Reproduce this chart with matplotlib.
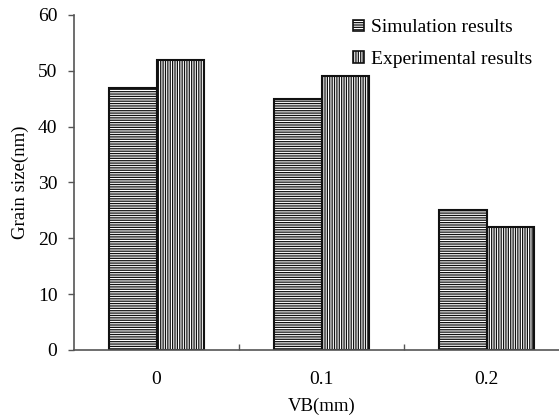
import matplotlib
matplotlib.use("Agg")
import matplotlib.pyplot as plt
import numpy as np

categories = ["0", "0.1", "0.2"]
simulation = [47, 45, 25]
experimental = [52, 49, 22]
series_names = ["Simulation results", "Experimental results"]
y_ticks = [0, 10, 20, 30, 40, 50, 60]

plt.rcParams["font.family"] = ["Liberation Serif", "DejaVu Serif"]
plt.rcParams["hatch.color"] = "#6e6e6e"
plt.rcParams["hatch.linewidth"] = 0.9

fig = plt.figure(figsize=(5.59, 4.2), dpi=100)
ax = fig.add_axes([0.1324, 0.1667, 0.8855, 0.7976])

x = np.arange(len(categories))
w = 0.285
ax.bar(x - w / 2, simulation, w, facecolor="white", edgecolor="#111111",
       linewidth=1.5, hatch="-------", label=series_names[0])
ax.bar(x + w / 2, experimental, w, facecolor="white", edgecolor="#111111",
       linewidth=1.5, hatch="|||||||", label=series_names[1])

ax.set_xlim(-0.5, 2.5)
ax.set_ylim(0, 60)
ax.set_yticks(y_ticks)
ax.set_xticks(x)
ax.set_xticklabels(categories)
ax.set_xticks([0.5, 1.5], minor=True)

for s in ["top", "right"]:
    ax.spines[s].set_visible(False)
for s in ["left", "bottom"]:
    ax.spines[s].set_color("#555555")
    ax.spines[s].set_linewidth(1.2)

ax.tick_params(axis="y", direction="out", length=4, width=1, color="#555555",
               labelsize=14, pad=8)
ax.tick_params(axis="x", which="major", length=0, labelsize=14, pad=15)
ax.tick_params(axis="x", which="minor", direction="in", length=4, width=1,
               color="#555555")

ax.set_xlabel("VB(mm)", fontsize=13.5, labelpad=7)
ax.set_ylabel("Grain size(nm)", fontsize=13.5, labelpad=6)

leg = ax.legend(loc="upper left", bbox_to_anchor=(0.548, 1.01), frameon=False,
                fontsize=14, handlelength=0.55, handleheight=0.55,
                handletextpad=0.35, labelspacing=0.75, borderaxespad=0)
for h in leg.legend_handles:
    h.set_linewidth(1.2)

fig.savefig("out.png", dpi=100)
